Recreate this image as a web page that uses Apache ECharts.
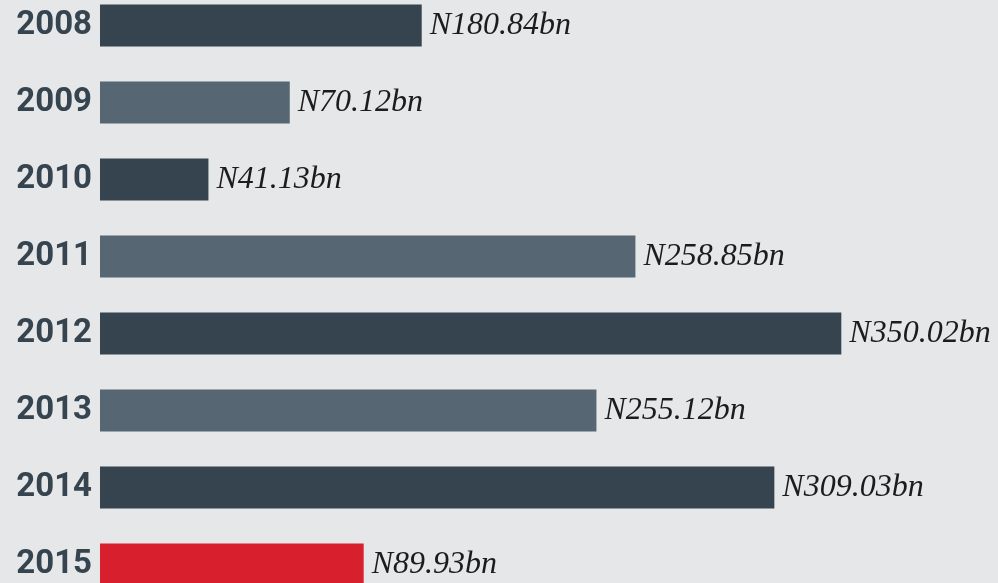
<!DOCTYPE html>
<html>
<head>
<meta charset="utf-8">
<script src="https://cdn.jsdelivr.net/npm/echarts@6/dist/echarts.min.js"></script>
<style>
  html, body { margin: 0; padding: 0; background: #e6e7e9; overflow: hidden; }
  #chart { position: absolute; left: 0; top: -13px; width: 998px; height: 616px; }
</style>
</head>
<body>
<div id="chart"></div>
<script>
// years shown on the left
const years = ['2008', '2009', '2010', '2011', '2012', '2013', '2014', '2015'];
// bar lengths as drawn in the picture (bn scale, 2012 bar = 350.02)
const barLengths = [151.9, 89.6, 51.2, 252.8, 350.02, 234.4, 318.4, 124.5];
// figures printed next to each bar
const amounts = ['180.84', '70.12', '41.13', '258.85', '350.02', '255.12', '309.03', '89.93'];

const DARK = '#35444e';
const LIGHT = '#566672';
const RED = '#d81f2d';

function barColor(i) {
  if (i === years.length - 1) return RED;
  return i % 2 === 0 ? DARK : LIGHT;
}

const chart = echarts.init(document.getElementById('chart'), null, { renderer: 'canvas' });

chart.setOption({
  backgroundColor: '#e6e7e9',
  animation: false,
  grid: { left: 100, right: 0, top: 0, bottom: 0, containLabel: false },
  xAxis: {
    type: 'value',
    min: 0,
    max: 424,
    show: false,
  },
  yAxis: {
    type: 'category',
    inverse: true,
    data: years,
    axisLine: { show: false },
    axisTick: { show: false },
    axisLabel: {
      margin: 8,
      color: DARK,
      fontFamily: 'Roboto',
      fontWeight: 'bold',
      fontSize: 33,
    },
  },
  series: [
    {
      type: 'bar',
      barWidth: 42,
      data: barLengths.map((v, i) => ({
        value: v,
        itemStyle: { color: barColor(i) },
      })),
      label: {
        show: true,
        position: 'right',
        distance: 8,
        color: '#1c1c1c',
        fontFamily: 'Liberation Serif',
        fontStyle: 'italic',
        fontSize: 32,
        formatter: (p) => 'N' + amounts[p.dataIndex] + 'bn',
      },
    },
  ],
});
</script>
</body>
</html>
